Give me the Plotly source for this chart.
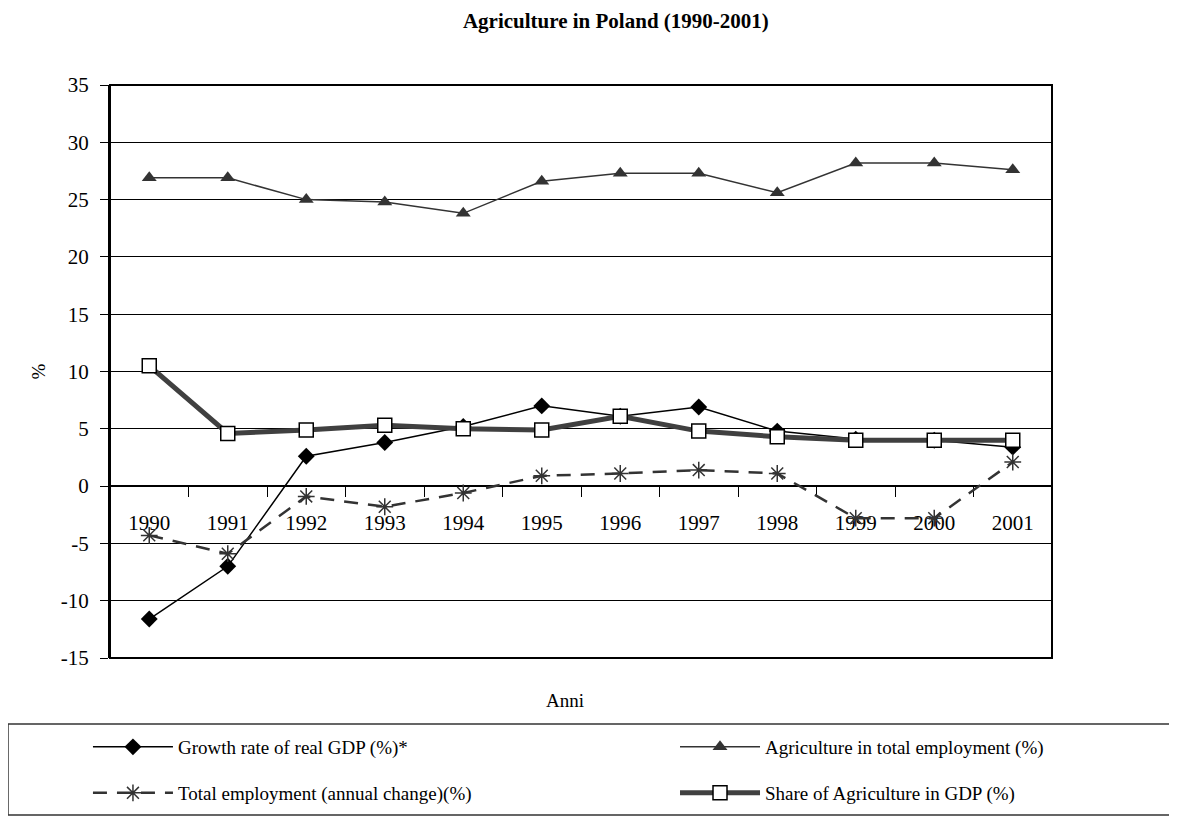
import plotly.graph_objects as go

years = ["1990", "1991", "1992", "1993", "1994", "1995", "1996", "1997", "1998", "1999", "2000", "2001"]
gdp_growth = [-11.6, -7.0, 2.6, 3.8, 5.2, 7.0, 6.1, 6.9, 4.8, 4.1, 4.0, 3.4]
agri_employment = [26.9, 26.9, 25.0, 24.8, 23.8, 26.6, 27.3, 27.3, 25.6, 28.2, 28.2, 27.6]
total_employment = [-4.3, -5.9, -0.9, -1.8, -0.6, 0.9, 1.1, 1.4, 1.1, -2.8, -2.8, 2.1]
agri_share_gdp = [10.5, 4.6, 4.9, 5.3, 5.0, 4.9, 6.1, 4.8, 4.3, 4.0, 4.0, 4.0]

y_tickvals = [-15, -10, -5, 0, 5, 10, 15, 20, 25, 30, 35]
y_ticktext = ["-15", "-10", "-5", "0", "5", "10", "15", "20", "25", "30", "35"]

names = ["Growth rate of real GDP (%)*", "Agriculture in total employment (%)",
         "Total employment (annual change)(%)", "Share of Agriculture in GDP (%)"]

FONT = "Liberation Serif, Times New Roman, serif"
LEG_FONT = 19

fig = go.Figure()
fig.add_trace(go.Scatter(
    x=years, y=gdp_growth, name=names[0], mode="lines+markers", legend="legend",
    line=dict(color="black", width=1.5),
    marker=dict(symbol="diamond", size=13, color="black")))
fig.add_trace(go.Scatter(
    x=years, y=agri_employment, name=names[1], mode="lines+markers", legend="legend2",
    line=dict(color="#333333", width=1.5),
    marker=dict(symbol="triangle-up", size=13, color="#333333")))
fig.add_trace(go.Scatter(
    x=years, y=total_employment, name=names[2], mode="lines+markers", legend="legend3",
    line=dict(color="#333333", width=2.5, dash="14px,10px"),
    marker=dict(symbol="asterisk-open", size=14, color="#333333", line=dict(width=1.5, color="#333333"))))
fig.add_trace(go.Scatter(
    x=years, y=agri_share_gdp, name=names[3], mode="lines+markers", legend="legend4",
    line=dict(color="#404040", width=5),
    marker=dict(symbol="square", size=14, color="white", line=dict(width=1.5, color="black"))))

def leg(x, y):
    return dict(orientation="h", x=x, xanchor="left", y=y, yanchor="middle", itemwidth=80,
                bgcolor="rgba(0,0,0,0)", font=dict(size=LEG_FONT, family=FONT))

fig.update_layout(
    width=1169, height=813,
    margin=dict(l=102, r=125, t=77, b=163, autoexpand=False),
    plot_bgcolor="white", paper_bgcolor="white",
    font=dict(family=FONT, color="black", size=LEG_FONT),
    title=dict(text="<b>Agriculture in Poland (1990-2001)</b>", x=0.520, xanchor="center",
               y=1 - 13 / 813, yanchor="middle", font=dict(size=21, family=FONT)),
    xaxis=dict(type="category", range=[-0.5, 11.5], anchor="free", position=0.3,
               showline=True, linecolor="black", linewidth=1.5,
               ticks="outside", tickson="boundaries", ticklen=10, tickcolor="black",
               ticklabelstandoff=18, tickfont=dict(size=21, family=FONT),
               showgrid=False, zeroline=False, layer="below traces"),
    yaxis=dict(range=[-15, 35], tickmode="array", tickvals=y_tickvals, ticktext=y_ticktext,
               showline=True, linecolor="black", linewidth=2,
               ticks="outside", ticklen=8, tickcolor="black",
               ticklabelstandoff=7, tickfont=dict(size=21, family=FONT),
               showgrid=True, gridcolor="black", gridwidth=1,
               zeroline=True, zerolinecolor="black", zerolinewidth=1.5),
    legend=leg(-0.0234, -0.1553),
    legend2=leg(0.5998, -0.1553),
    legend3=leg(-0.0234, -0.2356),
    legend4=leg(0.5998, -0.2356),
    showlegend=True,
    shapes=[
        dict(type="rect", xref="paper", yref="paper", x0=0, x1=1, y0=0, y1=1,
             line=dict(color="black", width=2), layer="above"),
        dict(type="rect", xref="paper", yref="paper", x0=-0.1083, x1=1.1306, y0=-0.274, y1=-0.1152,
             line=dict(color="#333333", width=1.5)),
    ],
    annotations=[
        dict(text="%", xref="paper", yref="paper", x=-0.0764, y=0.5, showarrow=False,
             xanchor="center", yanchor="middle",
             textangle=-90, font=dict(size=19, family=FONT)),
        dict(text="Anni", xref="paper", yref="paper", x=0.483, y=-0.0733, showarrow=False,
             xanchor="center", yanchor="middle",
             font=dict(size=19, family=FONT)),
    ],
)

fig.write_html("out.html")
